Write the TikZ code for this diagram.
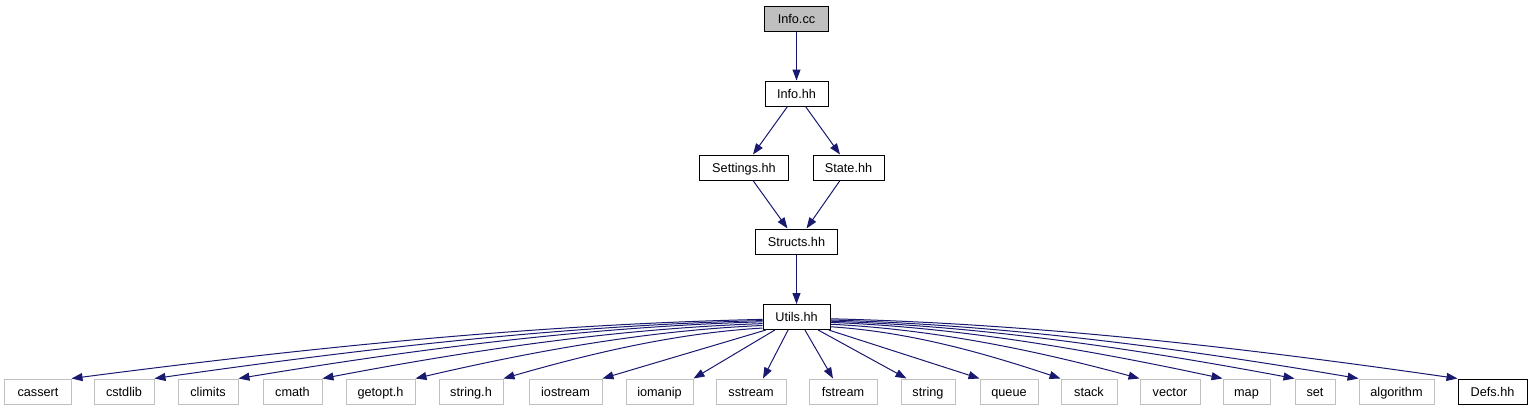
\documentclass[tikz,border=0pt]{standalone}
\usepackage{fontspec}
\setmainfont{Liberation Sans}
\usetikzlibrary{arrows.meta, calc}

\definecolor{edgeblue}{HTML}{191970}
\definecolor{boxgray}{HTML}{BFBFBF}

\begin{document}
\begin{tikzpicture}[x=1bp, y=-1bp, >={Triangle[length=11bp, width=8bp]},
    font=\fontsize{12.7bp}{15bp}\selectfont,
    file/.style={draw=black, line width=1bp, minimum height=25bp, inner sep=0pt,
      text height=11bp, text depth=2bp},
    sysfile/.style={file, draw=boxgray},
    dep/.style={->, draw=edgeblue, line width=1bp}]
    \useasboundingbox (0,0) rectangle (1532,411);

    % include chain
    \node[file, fill=boxgray, minimum width=64bp] at (796.5,18.5) (info-cc) {Info.cc};
    \node[file, minimum width=63bp] at (796.5,93.5) (info-hh) {Info.hh};
    \node[file, minimum width=89bp] at (744,167.5) (settings-hh) {Settings.hh};
    \node[file, minimum width=71bp] at (848.5,167.5) (state-hh) {State.hh};
    \node[file, minimum width=82bp] at (796.5,241.5) (structs-hh) {Structs.hh};
    \node[file, minimum width=67bp] at (796.5,317) (utils-hh) {Utils.hh};

    % headers included by Utils.hh
    \foreach \name/\x/\w/\txt in {cassert/38/66/cassert, cstdlib/124/60/cstdlib,
        climits/208/60/climits, cmath/292.5/59/cmath, getopt-h/380.5/69/getopt.h,
        string-h/471/64/string.h, iostream/565.5/73/iostream, iomanip/659.5/67/iomanip,
        sstream/751/70/sstream, fstream/843/68/fstream, string/928/54/string,
        queue/1009/58/queue, stack/1089/56/stack, vector/1170/60/vector,
        map/1246.5/47/map, set/1315/40/set, algorithm/1396.5/75/algorithm} {
      \node[sysfile, minimum width=\w bp] at (\x,391.5) (\name) {\txt};
    };
    \node[file, minimum width=69bp] at (1492.5,391.5) (defs-hh) {Defs.hh};

    \draw[dep] (info-cc) -- (info-hh);
    \draw[dep] ([xshift=-9bp]info-hh.south) -- ([xshift=9bp]settings-hh.north);
    \draw[dep] ([xshift=9bp]info-hh.south) -- ([xshift=-8.5bp]state-hh.north);
    \draw[dep] ([xshift=9bp]settings-hh.south) -- ([xshift=-9bp]structs-hh.north);
    \draw[dep] ([xshift=-8.5bp]state-hh.south) -- ([xshift=10bp]structs-hh.north);
    \draw[dep] (structs-hh) -- (utils-hh);

    \foreach \t/\a/\dx/\dy in {cassert/184/231/30, cstdlib/186/203/29, climits/188/175/29,
        cmath/191/147/28, getopt-h/194/116/27, string-h/198/87/25} {
      \draw[dep] (utils-hh.\a) .. controls +(-\dx,5) and +(\dx,-\dy) .. (\t.north east);
    };
    \draw[dep] (utils-hh.203) -- (iostream.north east);
    \draw[dep] (utils-hh.211) -- (iomanip.north east);
    \draw[dep] (utils-hh.237) -- ([xshift=12bp]sstream.north);
    \draw[dep] (utils-hh.303) -- ([xshift=-10bp]fstream.north);
    \draw[dep] (utils-hh.329) -- ([xshift=6bp]string.north west);
    \draw[dep] (utils-hh.338) -- (queue.north west);
    \foreach \t/\a/\dx/\dy in {stack/344/78/26, vector/348/103/28, map/351/131/28,
        set/353/155/29, algorithm/355/176/30, defs-hh/357/209/30} {
      \draw[dep] (utils-hh.\a) .. controls +(\dx,5) and +(-\dx,-\dy) .. (\t.north west);
    };
\end{tikzpicture}
\end{document}
